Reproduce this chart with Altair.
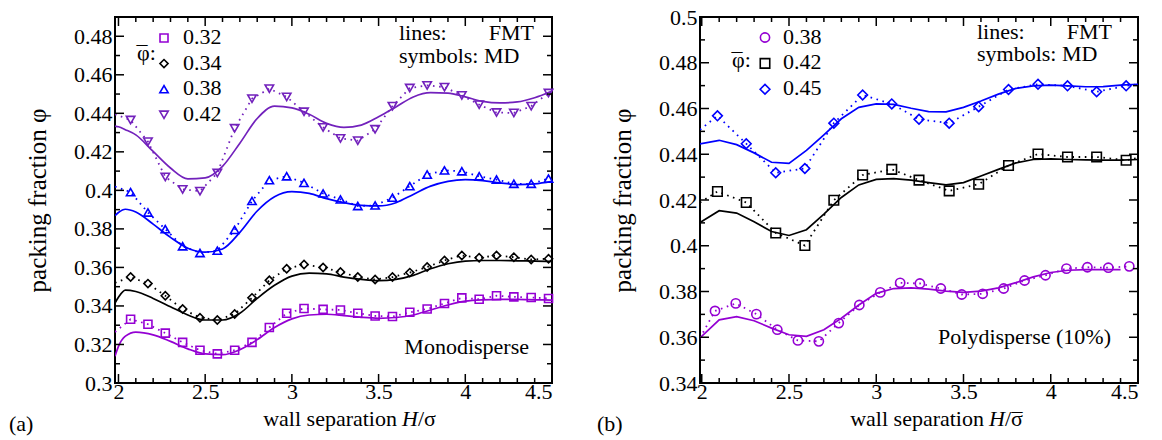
import altair as alt
import pandas as pd

FONT = "Liberation Serif"
FS = 22

# ------------------------------------------------------------------ panel (a)
a_series = ["0.32", "0.34", "0.38", "0.42"]
a_colors = ["#9400d3", "#000000", "#0000ff", "#7221bc"]
a_shapes = ["square", "diamond", "triangle-up", "triangle-down"]
a_sizes = [64, 72, 80, 80]

a_fmt_x = [1.98, 2.0, 2.04, 2.1, 2.2, 2.3, 2.4, 2.5, 2.6, 2.7, 2.8, 2.9, 3.0, 3.1,
           3.2, 3.3, 3.4, 3.5, 3.6, 3.7, 3.8, 3.9, 4.0, 4.1, 4.2, 4.3, 4.4, 4.5]
a_fmt_032 = [0.3139, 0.3190, 0.3243, 0.3264, 0.3250, 0.3216, 0.3177, 0.3151, 0.3147, 0.3173,
             0.3225, 0.3288, 0.3333, 0.3353, 0.3357, 0.3350, 0.3341, 0.3336, 0.3340, 0.3353,
             0.3379, 0.3405, 0.3425, 0.3432, 0.3434, 0.3434, 0.3432, 0.3430]
a_fmt_034 = [0.3415, 0.3445, 0.3482, 0.3475, 0.3439, 0.3396, 0.3353, 0.3327, 0.3327, 0.3362,
             0.3439, 0.3507, 0.3555, 0.3570, 0.3567, 0.3550, 0.3538, 0.3531, 0.3538, 0.3559,
             0.3593, 0.3619, 0.3633, 0.3636, 0.3636, 0.3634, 0.3633, 0.3631]
a_fmt_038 = [0.3869, 0.3885, 0.3902, 0.3888, 0.3825, 0.3756, 0.3700, 0.3679, 0.3696, 0.3782,
             0.3893, 0.3967, 0.3993, 0.3984, 0.3957, 0.3936, 0.3922, 0.3919, 0.3936, 0.3979,
             0.4022, 0.4047, 0.4056, 0.4051, 0.4039, 0.4030, 0.4034, 0.4047]
a_fmt_042 = [0.4334, 0.4330, 0.4315, 0.4288, 0.4202, 0.4116, 0.4060, 0.4065, 0.4125, 0.4245,
             0.4373, 0.4437, 0.4428, 0.4395, 0.4348, 0.4327, 0.4339, 0.4382, 0.4433, 0.4485,
             0.4507, 0.4505, 0.4485, 0.4462, 0.4454, 0.4459, 0.4481, 0.4516]

a_md_x = [2.07, 2.17, 2.27, 2.37, 2.47, 2.57, 2.67, 2.77, 2.87, 2.97, 3.07, 3.18, 3.28,
          3.38, 3.48, 3.58, 3.68, 3.78, 3.88, 3.98, 4.08, 4.18, 4.28, 4.38, 4.48]
a_md_032 = [0.3331, 0.3305, 0.3259, 0.3211, 0.3170, 0.3151, 0.3170, 0.3211, 0.3288, 0.3362,
            0.3387, 0.3382, 0.3379, 0.3362, 0.3348, 0.3345, 0.3367, 0.3384, 0.3413, 0.3442,
            0.3435, 0.3453, 0.3447, 0.3444, 0.3439]
a_md_034 = [0.3550, 0.3516, 0.3453, 0.3384, 0.3339, 0.3327, 0.3358, 0.3442, 0.3533, 0.3593,
            0.3615, 0.3600, 0.3576, 0.3550, 0.3537, 0.3550, 0.3573, 0.3602, 0.3636, 0.3662,
            0.3650, 0.3662, 0.3653, 0.3641, 0.3645]
a_md_038 = [0.3991, 0.3885, 0.3799, 0.3710, 0.3675, 0.3687, 0.3795, 0.3945, 0.4053, 0.4073,
            0.4039, 0.3984, 0.3953, 0.3919, 0.3922, 0.3962, 0.4022, 0.4082, 0.4104, 0.4099,
            0.4073, 0.4056, 0.4034, 0.4034, 0.4061]
a_md_042 = [0.4365, 0.4253, 0.4070, 0.4005, 0.3996, 0.4090, 0.4322, 0.4476, 0.4528, 0.4485,
            0.4408, 0.4327, 0.4270, 0.4258, 0.4317, 0.4437, 0.4531, 0.4545, 0.4536, 0.4493,
            0.4445, 0.4404, 0.4402, 0.4437, 0.4505]
# MD curves continue to the left wall (no symbol drawn there)
a_md_edge_x = 1.98
a_md_edge = [0.3265, 0.3520, 0.4020, 0.4395]

# ------------------------------------------------------------------ panel (b)
b_series = ["0.38", "0.42", "0.45"]
b_colors = ["#9400d3", "#000000", "#0000ff"]
b_shapes = ["circle", "square", "diamond"]
b_sizes = [85, 95, 110]

b_fmt_x = [1.99, 2.1, 2.2, 2.3, 2.4, 2.5, 2.6, 2.7, 2.8, 2.9, 3.0, 3.1, 3.2, 3.3,
           3.4, 3.5, 3.6, 3.7, 3.8, 3.9, 4.0, 4.1, 4.2, 4.3, 4.4, 4.5]
b_fmt_038 = [0.3597, 0.3676, 0.3690, 0.3672, 0.3640, 0.3611, 0.3604, 0.3633, 0.3683, 0.3741,
             0.3792, 0.3813, 0.3816, 0.3810, 0.3802, 0.3796, 0.3802, 0.3816, 0.3839, 0.3864,
             0.3883, 0.3893, 0.3896, 0.3896, 0.3896, None]
b_fmt_042 = [0.4102, 0.4153, 0.4143, 0.4105, 0.4062, 0.4045, 0.4070, 0.4138, 0.4211, 0.4266,
             0.4290, 0.4293, 0.4287, 0.4276, 0.4266, 0.4276, 0.4305, 0.4334, 0.4362, 0.4377,
             0.4380, 0.4377, 0.4375, 0.4374, 0.4374, 0.4377]
b_fmt_045 = [0.4445, 0.4461, 0.4442, 0.4406, 0.4365, 0.4360, 0.4417, 0.4485, 0.4555, 0.4605,
             0.4620, 0.4618, 0.4601, 0.4586, 0.4585, 0.4605, 0.4633, 0.4663, 0.4688, 0.4699,
             0.4702, 0.4699, 0.4695, 0.4696, 0.4702, 0.4706]

b_md_x038 = [2.076, 2.195, 2.313, 2.433, 2.551, 2.671, 2.785, 2.903, 3.023, 3.137, 3.25,
             3.37, 3.49, 3.61, 3.73, 3.85, 3.97, 4.09, 4.21, 4.33, 4.45]
b_md_038 = [0.3715, 0.3748, 0.3701, 0.3633, 0.3586, 0.3582, 0.3662, 0.3741, 0.3796, 0.3838,
            0.3835, 0.3813, 0.3787, 0.3790, 0.3813, 0.3848, 0.3871, 0.3900, 0.3906, 0.3904,
            0.3910]
b_md_x04x = [2.09, 2.255, 2.424, 2.591, 2.757, 2.922, 3.089, 3.245, 3.418, 3.587, 3.758,
             3.927, 4.096, 4.263, 4.432]
b_md_042 = [0.4237, 0.4189, 0.4056, 0.4001, 0.4199, 0.4309, 0.4334, 0.4287, 0.4240, 0.4269,
            0.4351, 0.4401, 0.4388, 0.4388, 0.4374]
b_md_045 = [0.4568, 0.4446, 0.4319, 0.4338, 0.4536, 0.4659, 0.4620, 0.4553, 0.4536, 0.4608,
            0.4683, 0.4706, 0.4699, 0.4673, 0.4699]
b_md_edge_left_x = 1.99
b_md_edge_left = [0.3597, 0.4189, 0.4507]
b_md_edge_right_x = 4.5
b_md_edge_right = [None, 0.4384, 0.4706]

# ------------------------------------------------------------------ axes
x_major = [2.0, 2.5, 3.0, 3.5, 4.0, 4.5]
x_minor = [2.1, 2.2, 2.3, 2.4, 2.6, 2.7, 2.8, 2.9, 3.1, 3.2, 3.3, 3.4,
           3.6, 3.7, 3.8, 3.9, 4.1, 4.2, 4.3, 4.4]
a_y_major = [0.30, 0.32, 0.34, 0.36, 0.38, 0.40, 0.42, 0.44, 0.46, 0.48]
a_y_minor = [0.31, 0.33, 0.35, 0.37, 0.39, 0.41, 0.43, 0.45, 0.47, 0.49]
b_y_major = [0.34, 0.36, 0.38, 0.40, 0.42, 0.44, 0.46, 0.48, 0.50]
b_y_minor = [0.35, 0.37, 0.39, 0.41, 0.43, 0.45, 0.47, 0.49]


def long_df(pairs):
    rows = []
    for name, xs, ys in pairs:
        for x, y in zip(xs, ys):
            if y is not None:
                rows.append({"x": x, "y": y, "s": name})
    return pd.DataFrame(rows)


def txt_layer(text, px, py, align="left", style="normal"):
    return (alt.Chart(pd.DataFrame({"t": [text]}))
            .mark_text(align=align, baseline="middle", font=FONT, fontSize=FS,
                       color="black", fontStyle=style)
            .encode(x=alt.value(px), y=alt.value(py), text="t:N"))


def panel(W, H, xdom, ydom, ymaj, ymin_, series, colors, shapes, sizes,
          fmt_df, dot_df, pts_df, interp, leg, notes, xt_parts, sigma_bar, plabel):
    xs = alt.Scale(domain=xdom, nice=False, zero=False)
    ys = alt.Scale(domain=ydom, nice=False, zero=False)
    col = alt.Scale(domain=series, range=colors)
    shp = alt.Scale(domain=series, range=shapes)
    siz = alt.Scale(domain=series, range=sizes)

    xax = alt.Axis(values=x_major, format="~g", title=None)
    yax = alt.Axis(values=ymaj, format=".2~f", title="packing fraction φ")
    X = alt.X("x:Q", scale=xs, axis=xax)
    Y = alt.Y("y:Q", scale=ys, axis=yax)
    C = alt.Color("s:N", scale=col, legend=None)
    S = alt.Shape("s:N", scale=shp, legend=None)
    Z = alt.Size("s:N", scale=siz, legend=None)

    layers = []
    layers.append(alt.Chart(fmt_df).mark_line(strokeWidth=1.7, interpolate=interp, clip=True)
                  .encode(x=X, y=Y, color=C, detail="s:N"))
    layers.append(alt.Chart(dot_df).mark_line(strokeWidth=1.8, strokeDash=[1.6, 4.6], clip=True)
                  .encode(x=X, y=Y, color=C, detail="s:N"))
    layers.append(alt.Chart(pts_df).mark_point(filled=False, strokeWidth=1.6, opacity=1)
                  .encode(x=X, y=Y, color=C, shape=S, size=Z))

    # inward ticks on all four sides
    for vals, ln in ((x_major, 9), (x_minor, 5)):
        d = pd.DataFrame({"x": vals})
        layers.append(alt.Chart(d).mark_rule(color="black", strokeWidth=1.5)
                      .encode(x=X, y=alt.value(H), y2=alt.value(H - ln)))
        layers.append(alt.Chart(d).mark_rule(color="black", strokeWidth=1.5)
                      .encode(x=X, y=alt.value(0), y2=alt.value(ln)))
    for vals, ln in ((ymaj, 9), (ymin_, 5)):
        d = pd.DataFrame({"y": vals})
        layers.append(alt.Chart(d).mark_rule(color="black", strokeWidth=1.5)
                      .encode(y=Y, x=alt.value(0), x2=alt.value(ln)))
        layers.append(alt.Chart(d).mark_rule(color="black", strokeWidth=1.5)
                      .encode(y=Y, x=alt.value(W), x2=alt.value(W - ln)))

    # legend (symbols + values)
    sx, tx, y0, dy, phix, phiy = leg
    for i, s in enumerate(series):
        d = pd.DataFrame({"s": [s]})
        layers.append(alt.Chart(d).mark_point(filled=False, strokeWidth=1.6, opacity=1)
                      .encode(x=alt.value(sx), y=alt.value(y0 + i * dy), color=C,
                              shape=S, size=Z))
        layers.append(alt.Chart(d).mark_text(align="left", baseline="middle", font=FONT,
                                             fontSize=FS, color="black")
                      .encode(x=alt.value(tx), y=alt.value(y0 + i * dy - 1), text="s:N"))
    layers.append(txt_layer("φ:", phix, phiy))
    layers.append(txt_layer("\u00af", phix + 5, phiy + 1, "center"))

    # annotations
    for txt, px, py, al, style in notes:
        layers.append(txt_layer(txt, px, py, al, style))
    for txt, px, al, style in xt_parts:
        layers.append(txt_layer(txt, px, H + 36, al, style))
    if sigma_bar is not None:
        layers.append(txt_layer("\u00af", sigma_bar, H + 38, "center"))
    layers.append(txt_layer(plabel[0], plabel[1], H + 41))

    return alt.layer(*layers).properties(width=W, height=H)


a_fmt_df = long_df([("0.32", a_fmt_x, a_fmt_032), ("0.34", a_fmt_x, a_fmt_034),
                    ("0.38", a_fmt_x, a_fmt_038), ("0.42", a_fmt_x, a_fmt_042)])
a_pts_df = long_df([("0.32", a_md_x, a_md_032), ("0.34", a_md_x, a_md_034),
                    ("0.38", a_md_x, a_md_038), ("0.42", a_md_x, a_md_042)])
a_dot_df = long_df([(s, [a_md_edge_x] + a_md_x, [e] + ys) for s, e, ys in
                    zip(a_series, a_md_edge, [a_md_032, a_md_034, a_md_038, a_md_042])])

b_fmt_df = long_df([("0.38", b_fmt_x, b_fmt_038), ("0.42", b_fmt_x, b_fmt_042),
                    ("0.45", b_fmt_x, b_fmt_045)])
b_pts_df = long_df([("0.38", b_md_x038, b_md_038), ("0.42", b_md_x04x, b_md_042),
                    ("0.45", b_md_x04x, b_md_045)])
b_dot_df = long_df([(s, [b_md_edge_left_x] + xs + [b_md_edge_right_x], [l] + ys + [r])
                    for s, xs, ys, l, r in zip(b_series,
                                               [b_md_x038, b_md_x04x, b_md_x04x],
                                               [b_md_038, b_md_042, b_md_045],
                                               b_md_edge_left, b_md_edge_right)])

WA, HA = 437, 366
WB, HB = 438, 366

left = panel(WA, HA, [1.98, 4.5], [0.30, 0.49], a_y_major, a_y_minor,
             a_series, a_colors, a_shapes, a_sizes, a_fmt_df, a_dot_df, a_pts_df, "monotone",
             (49, 68, 21, 25.6, 22, 36),
             [("lines:", 284, 16, "left", "normal"), ("FMT", 419, 16, "right", "normal"),
              ("symbols: MD", 284, 39, "left", "normal"),
              ("Monodisperse", 414, 330, "right", "normal")],
             [("wall separation", 282, "right", "normal"), ("H", 287, "left", "italic"),
              ("/σ", 303, "left", "normal")],
             None, ("(a)", -106))

right = panel(WB, HB, [1.99, 4.5], [0.34, 0.50], b_y_major, b_y_minor,
              b_series, b_colors, b_shapes, b_sizes, b_fmt_df, b_dot_df, b_pts_df, "linear",
              (65, 83, 20.5, 25.9, 32, 43),
              [("lines:", 277, 15, "left", "normal"), ("FMT", 412, 15, "right", "normal"),
               ("symbols: MD", 277, 37, "left", "normal"),
               ("Polydisperse (10%)", 411, 320, "right", "normal")],
              [("wall separation", 284, "right", "normal"), ("H", 289, "left", "italic"),
               ("/σ", 305, "left", "normal")],
              317, ("(b)", -103))

chart = (alt.hconcat(left, right, spacing=39)
         .resolve_scale(color="independent", shape="independent", size="independent")
         .properties(padding={"left": 0, "top": -3, "right": 0, "bottom": 0},
                     background="white")
         .configure_view(stroke="black", strokeWidth=2)
         .configure_axis(labelFont=FONT, labelFontSize=FS, labelColor="black",
                         titleFont=FONT, titleFontSize=25, titleFontWeight="normal",
                         titleColor="black", tickSize=0, domain=False, grid=False,
                         labelPadding=3, titlePadding=23)
         .configure_axisX(labelPadding=-2))

chart.save("out.html", embed_options={"renderer": "svg", "actions": False})
